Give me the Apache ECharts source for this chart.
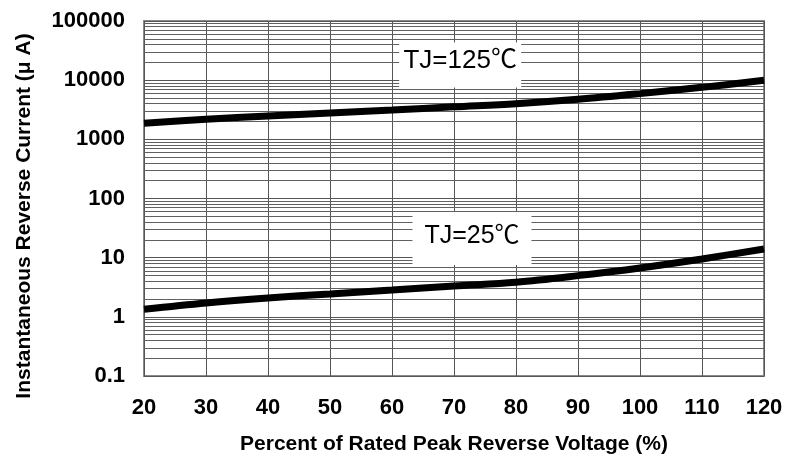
<!DOCTYPE html>
<html>
<head>
<meta charset="utf-8">
<script src="https://cdn.jsdelivr.net/npm/echarts@6/dist/echarts.min.js"></script>
<style>html,body{margin:0;padding:0;background:#fff}#c{width:798px;height:460px}</style>
</head>
<body>
<div id="c"></div>
<script>
var voltagePct = [20, 30, 40, 50, 60, 70, 80, 90, 100, 110, 120];
var current125 = [1870, 2180, 2480, 2790, 3130, 3550, 4010, 4750, 5920, 7560, 9930];
var current25 = [1.34, 1.72, 2.09, 2.44, 2.85, 3.33, 3.85, 4.97, 6.70, 9.51, 14.0];
var yTickLabels = ['0.1', '1', '10', '100', '1000', '10000', '100000'];
var seriesLabels = ['TJ=125\u2103', 'TJ=25\u2103'];
var labelAnchors = [[71, 18100], [72.9, 21.1]];

var FONT = '"Liberation Sans", Arial, "Noto Sans CJK SC", sans-serif';

// minor log grid values (2..9 x 10^k)
var minorLines = [];
for (var k = -1; k < 5; k++) {
  for (var m = 2; m <= 9; m++) {
    minorLines.push({ yAxis: m * Math.pow(10, k) });
  }
}

var chart = echarts.init(document.getElementById('c'), null, { renderer: 'canvas' });
chart.setOption({
  animation: false,
  backgroundColor: '#fff',
  grid: { left: 144, right: 34, top: 21, bottom: 83, show: true, borderColor: '#8a8a8a', borderWidth: 2, containLabel: false },
  xAxis: {
    type: 'value', min: 20, max: 120, interval: 10,
    name: 'Percent of Rated Peak Reverse Voltage (%)',
    nameLocation: 'middle', nameGap: 58,
    nameTextStyle: { fontFamily: FONT, fontWeight: 'bold', fontSize: 21, color: '#000' },
    axisLine: { show: false },
    axisTick: { show: false },
    axisLabel: { margin: 21, fontFamily: FONT, fontWeight: 'bold', fontSize: 22, color: '#000' },
    splitLine: { show: true, lineStyle: { color: '#555', width: 1 } }
  },
  yAxis: {
    type: 'log', logBase: 10, min: 0.1, max: 100000,
    axisLine: { show: false },
    axisTick: { show: false },
    axisLabel: {
      margin: 19, fontFamily: FONT, fontWeight: 'bold', fontSize: 22, color: '#000',
      formatter: function (v) { var i = Math.round(Math.log10(v)) + 1; return yTickLabels[i] || ''; }
    },
    splitLine: { show: true, lineStyle: { color: '#555', width: 1 } }
  },
  graphic: [{
    type: 'text', x: 24, y: 216, rotation: Math.PI / 2,
    style: { text: 'Instantaneous Reverse Current (\u03bc A)', fontFamily: FONT, fontWeight: 'bold', fontSize: 21, fill: '#000', textAlign: 'center', textVerticalAlign: 'middle' }
  }],
  series: [
    {
      type: 'line', data: [], z: 1, silent: true,
      markLine: {
        silent: true, symbol: 'none', label: { show: false },
        lineStyle: { color: '#606060', width: 1, type: 'solid' },
        data: minorLines, animation: false
      }
    },
    {
      type: 'line', smooth: 0.35, showSymbol: false, z: 5,
      lineStyle: { color: '#000', width: 7 },
      data: voltagePct.map(function (x, i) { return [x, current125[i]]; }),
      markPoint: {
        symbol: 'rect', symbolSize: [122, 45], silent: true,
        itemStyle: { color: '#fff' },
        label: { show: true, position: 'inside', offset: [0, -4], fontFamily: FONT, fontSize: 26, color: '#000', formatter: seriesLabels[0] },
        data: [{ coord: labelAnchors[0] }]
      }
    },
    {
      type: 'line', smooth: 0.35, showSymbol: false, z: 5,
      lineStyle: { color: '#000', width: 7 },
      data: voltagePct.map(function (x, i) { return [x, current25[i]]; }),
      markPoint: {
        symbol: 'rect', symbolSize: [119, 53], silent: true,
        itemStyle: { color: '#fff' },
        label: { show: true, position: 'inside', offset: [0, -2], fontFamily: FONT, fontSize: 25, color: '#000', formatter: seriesLabels[1] },
        data: [{ coord: labelAnchors[1] }]
      }
    }
  ]
});
</script>
</body>
</html>
